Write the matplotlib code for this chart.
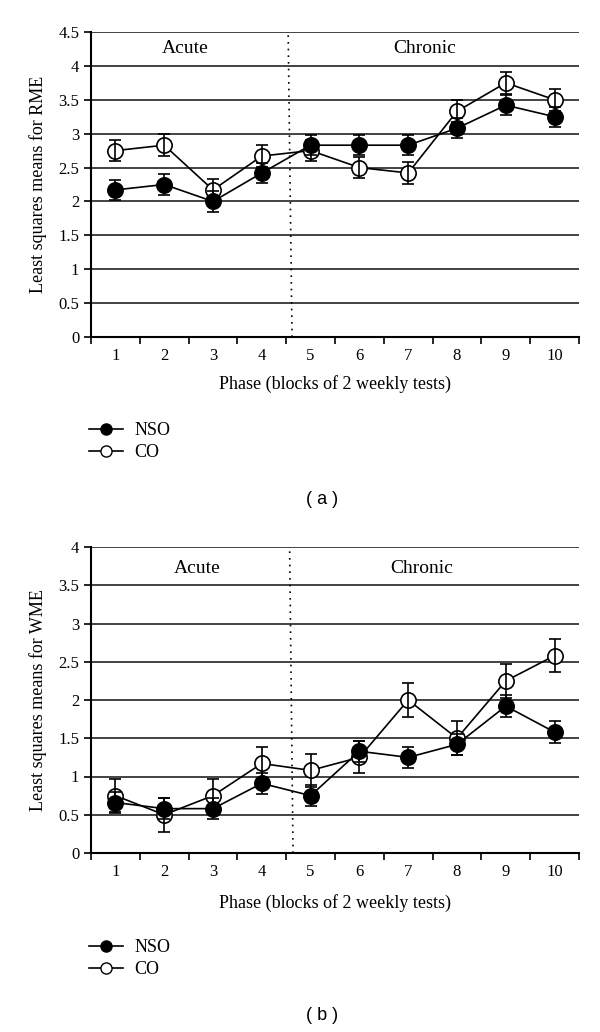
import matplotlib
matplotlib.use("Agg")
import matplotlib.pyplot as plt
from matplotlib.lines import Line2D
import numpy as np

phases = [1, 2, 3, 4, 5, 6, 7, 8, 9, 10]
tick_labels = ["1", "2", "3", "4", "5", "6", "7", "8", "9", "10"]

# Panel (a): RME
rme_nso = [2.17, 2.25, 2.00, 2.42, 2.83, 2.83, 2.83, 3.08, 3.42, 3.25]
rme_nso_err = [0.15, 0.15, 0.15, 0.15, 0.15, 0.15, 0.15, 0.15, 0.15, 0.15]
rme_co = [2.75, 2.83, 2.17, 2.67, 2.75, 2.50, 2.42, 3.33, 3.75, 3.50]
rme_co_err = [0.16, 0.16, 0.16, 0.16, 0.16, 0.16, 0.16, 0.16, 0.16, 0.16]

# Panel (b): WME
wme_nso = [0.66, 0.58, 0.58, 0.91, 0.75, 1.33, 1.25, 1.42, 1.92, 1.58]
wme_nso_err = [0.14, 0.14, 0.14, 0.14, 0.14, 0.14, 0.14, 0.14, 0.14, 0.14]
wme_co = [0.75, 0.50, 0.75, 1.17, 1.08, 1.25, 2.00, 1.50, 2.25, 2.58]
wme_co_err = [0.22, 0.22, 0.22, 0.22, 0.22, 0.21, 0.22, 0.22, 0.22, 0.22]

series_names = ["NSO", "CO"]
phase_labels = ["Acute", "Chronic"]

plt.rcParams['font.family'] = ['Liberation Serif', 'DejaVu Serif']

W, H = 600, 1032
fig = plt.figure(figsize=(W / 100, H / 100), dpi=100)


def fig_rect(x0, y0, x1, y1):
    return [x0 / W, 1 - y1 / H, (x1 - x0) / W, (y1 - y0) / H]


def panel(rect, nso, nso_err, co, co_err, ymax, ylabel, label_y, acute_x, chronic_x,
          divider, xlabel_y, leg_y, tag, tag_y):
    ax = fig.add_axes(fig_rect(*rect))
    x = np.array(phases)
    ax.set_xlim(0.5, 10.5)
    ax.set_ylim(0, ymax)
    yt = np.arange(0, ymax + 0.001, 0.5)
    ax.set_yticks(yt)
    ax.set_yticklabels([("%g" % v) for v in yt], fontsize=12)
    for v in yt[1:]:
        ax.axhline(v, color='#222222', lw=1.2, zorder=1)
    ax.set_xticks(np.arange(0.5, 10.6, 1.0))
    ax.set_xticklabels([])
    ax.set_xticks(x, minor=True)
    ax.set_xticklabels(tick_labels, minor=True, fontsize=12)
    ax.tick_params(axis='x', which='minor', length=0, pad=8)
    ax.tick_params(axis='x', which='major', direction='out', length=5, width=1.2)
    ax.tick_params(axis='y', direction='out', length=5, width=1.2)
    for s in ['top', 'right']:
        ax.spines[s].set_visible(False)
    for s in ['left', 'bottom']:
        ax.spines[s].set_linewidth(1.5)
    ax.plot(divider, [0, ymax], color='black', lw=1.2, ls=(0, (1, 3)), zorder=2)

    # CO: line + open markers, error bars drawn over the markers
    ax.plot(x, co, '-o', color='black', mfc='white', mec='black', ms=11, mew=1.2,
            lw=1.2, zorder=3)
    ax.errorbar(x, co, yerr=co_err, fmt='none', ecolor='black', capsize=4,
                elinewidth=1.2, capthick=1.2, zorder=3.5)
    # NSO: filled markers above error bars
    ax.errorbar(x, nso, yerr=nso_err, fmt='-o', color='black', mfc='black', mec='black',
                ms=11, mew=1.2, lw=1.2, capsize=4, elinewidth=1.2, capthick=1.2, zorder=4)

    ax.text(acute_x, label_y, phase_labels[0], ha='center', va='center', fontsize=14)
    ax.text(chronic_x, label_y, phase_labels[1], ha='center', va='center', fontsize=14)
    ax.set_ylabel(ylabel, fontsize=13, labelpad=8)
    fig.text(335 / W, 1 - xlabel_y / H, "Phase (blocks of 2 weekly tests)", ha='center',
             va='center', fontsize=13)

    handles = [
        Line2D([], [], color='black', marker='o', mfc='black', mec='black', ms=8, lw=1.2),
        Line2D([], [], color='black', marker='o', mfc='white', mec='black', ms=8, lw=1.2),
    ]
    fig.legend(handles, series_names, loc='upper left',
               bbox_to_anchor=(80 / W, 1 - leg_y / H), frameon=False, fontsize=13,
               handlelength=1.9, handletextpad=0.6, labelspacing=0.3, borderpad=0)
    fig.text(322 / W, 1 - tag_y / H, tag, ha='center', va='center', fontsize=13,
             family=['Liberation Sans'])
    return ax


panel((91, 32, 579, 337), rme_nso, rme_nso_err, rme_co, rme_co_err, 4.5,
      "Least squares means for RME", 4.25, 2.43, 7.34, [4.62, 4.54], 384, 413, "( a )", 499)
panel((91, 547, 579, 853), wme_nso, wme_nso_err, wme_co, wme_co_err, 4.0,
      "Least squares means for WME", 3.72, 2.67, 7.28, [4.64, 4.57], 903, 930, "( b )", 1016)

fig.savefig("out.png", dpi=100)
